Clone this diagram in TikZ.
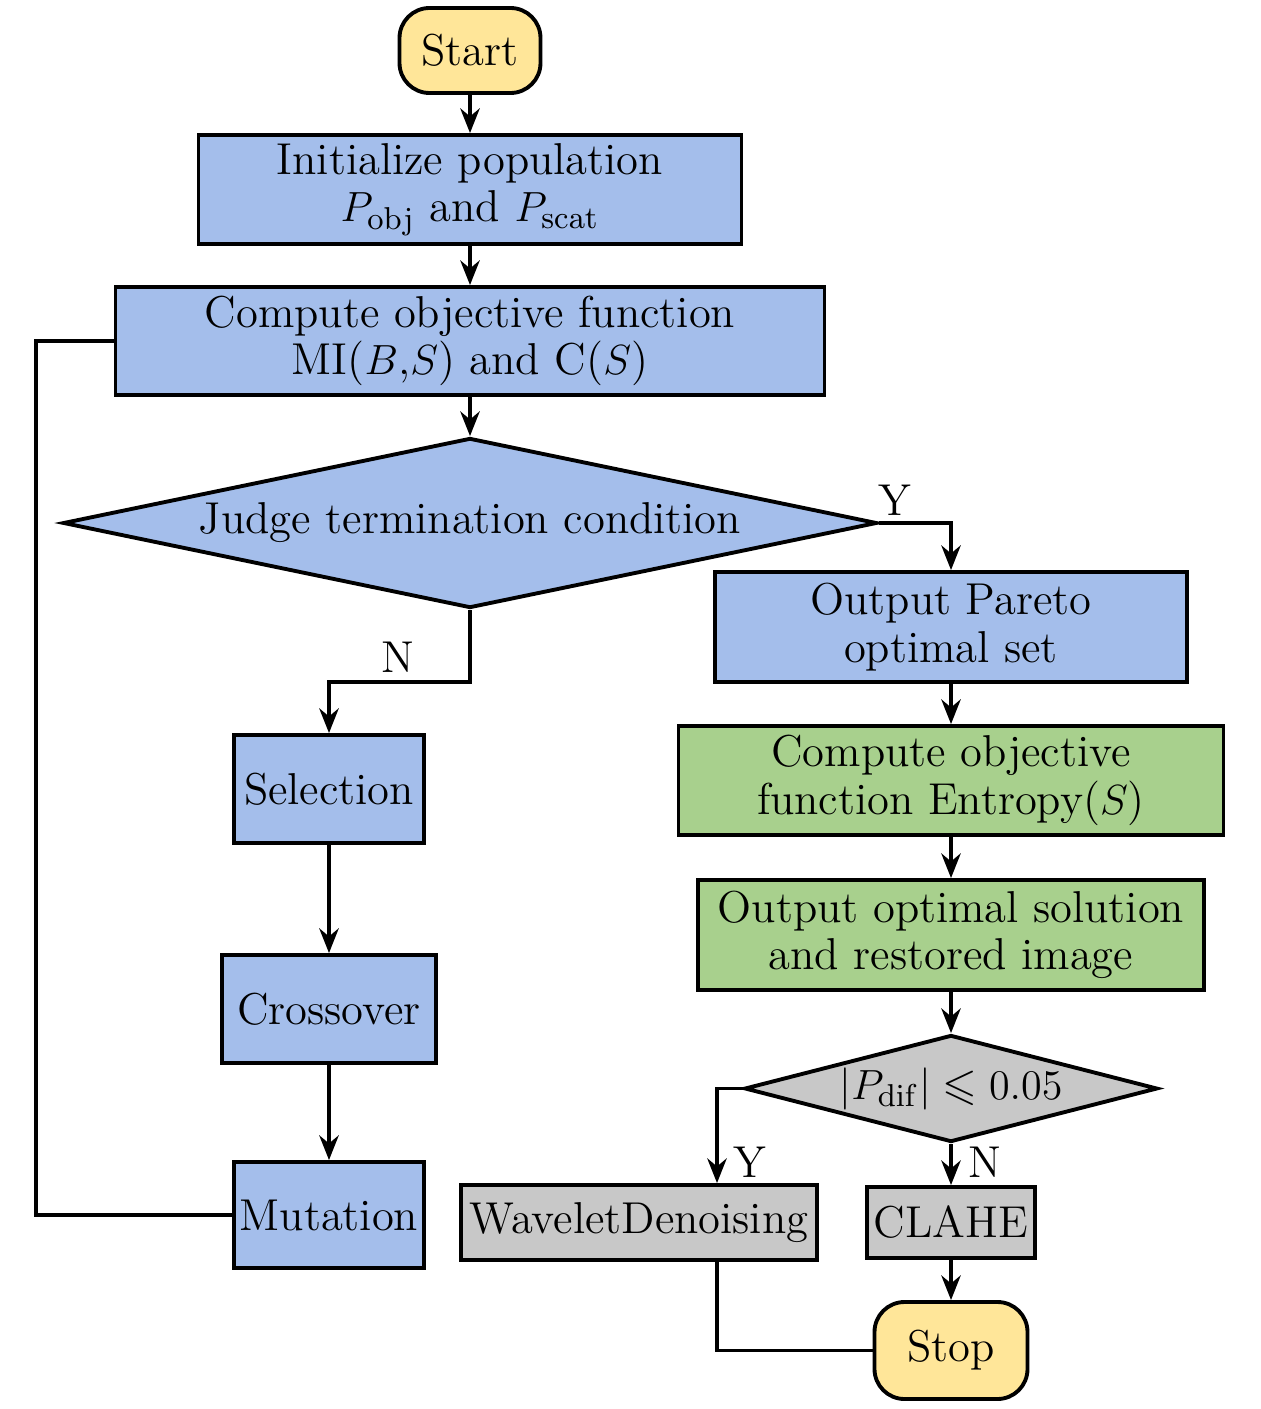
\documentclass[tikz,border=0pt]{standalone}
\usepackage{amsmath}
\usepackage{amssymb}
\usepackage{tikz}
\usetikzlibrary{shapes.geometric}
\usetikzlibrary{arrows.meta}

\definecolor{procblue}{RGB}{164,190,235}
\definecolor{procgreen}{RGB}{168,208,141}
\definecolor{procgray}{RGB}{200,200,200}
\definecolor{termyellow}{RGB}{255,230,153}

\begin{document}
\begin{tikzpicture}[
    txt/.style={font=\fontsize{12.7}{13.5}\selectfont},
    procbox/.style={txt,rectangle,draw=black,line width=1.1pt,inner sep=1pt,align=center},
    termbox/.style={txt,rectangle,rounded corners=0.3cm,draw=black,line width=1.1pt,fill=termyellow},
    decbox/.style={txt,diamond,draw=black,line width=1.1pt,inner sep=0pt}]
\useasboundingbox (0,0) rectangle (12.6,-14.09);

\begin{scope}
    \node[termbox,minimum width=1.41cm,minimum height=0.85cm] (start) at (4.70,-0.505) {Start};
    \node[procbox,fill=procblue,minimum width=5.43cm,minimum height=1.09cm] (init) at (4.70,-1.895)
        {Initialize population\\$P_{\mathrm{obj}}$ and $P_{\mathrm{scat}}$};
    \node[procbox,fill=procblue,minimum width=7.09cm,minimum height=1.08cm] (comp) at (4.70,-3.41)
        {Compute objective function\\MI($B$,$S$) and C($S$)};
    \node[decbox,fill=procblue,aspect=4.8,minimum width=8.14cm,minimum height=1.70cm] (judge) at (4.70,-5.23)
        {Judge termination condition};

    \node[procbox,fill=procblue,minimum width=1.90cm,minimum height=1.08cm] (sel) at (3.29,-7.89) {Selection};
    \node[procbox,fill=procblue,minimum width=2.14cm,minimum height=1.08cm] (cross) at (3.29,-10.09) {Crossover};
    \node[procbox,fill=procblue,minimum width=1.90cm,minimum height=1.06cm] (mut) at (3.29,-12.15) {Mutation};

    \node[procbox,fill=procblue,minimum width=4.72cm,minimum height=1.10cm] (pareto) at (9.51,-6.27)
        {Output Pareto\\optimal set};
    \node[procbox,fill=procgreen,minimum width=5.45cm,minimum height=1.09cm] (entr) at (9.51,-7.805)
        {Compute objective\\function Entropy($S$)};
    \node[procbox,fill=procgreen,minimum width=5.06cm,minimum height=1.10cm] (optim) at (9.51,-9.35)
        {Output optimal solution\\and restored image};
    \node[decbox,fill=procgray,aspect=3.9,minimum width=4.13cm,minimum height=1.07cm] (chk) at (9.51,-10.885)
        {$|P_{\mathrm{dif}}| \leqslant 0.05$};

    \node[procbox,fill=procgray,minimum width=3.56cm,minimum height=0.75cm] (wav) at (6.39,-12.225) {WaveletDenoising};
    \node[procbox,fill=procgray,minimum width=1.68cm,minimum height=0.71cm] (clahe) at (9.51,-12.225) {CLAHE};
    \node[termbox,minimum width=1.53cm,minimum height=0.97cm] (stop) at (9.51,-13.505) {Stop};
    \end{scope}

\begin{scope}[every node/.style={txt}]
    \node (yjudge) at (8.95,-5.00) {Y};
    \node (njudge) at (3.98,-6.57) {N};
    \node (ychk) at (7.50,-11.62) {Y};
    \node (nchk) at (9.85,-11.62) {N};
    \end{scope}

\begin{scope}[>={Stealth[black,length=7pt,width=5.5pt]}, line width=1.1pt]
    \coordinate (nbend) at (4.70,-6.82);
    \coordinate (loopx) at (0.36,-12.15);

    \path [->] (start) edge (init);
    \path [->] (init) edge (comp);
    \path [->] (comp) edge (judge);
    \draw [->] (judge.east) -| (pareto.north);
    \draw [->] (judge.south) -- (nbend) -| (sel.north);
    \path [->] (sel) edge (cross);
    \path [->] (cross) edge (mut);
    \draw (mut.west) -- (loopx) |- (comp.west);

    \path [->] (pareto) edge (entr);
    \path [->] (entr) edge (optim);
    \path [->] (optim) edge (chk);
    \draw [->] (chk.west) -| ([xshift=0.78cm]wav.north);
    \path [->] (chk.south) edge (clahe.north);
    \path [->] (clahe) edge (stop);
    \draw ([xshift=0.78cm]wav.south) |- (stop.west);
    \end{scope}

\end{tikzpicture}
\end{document}
